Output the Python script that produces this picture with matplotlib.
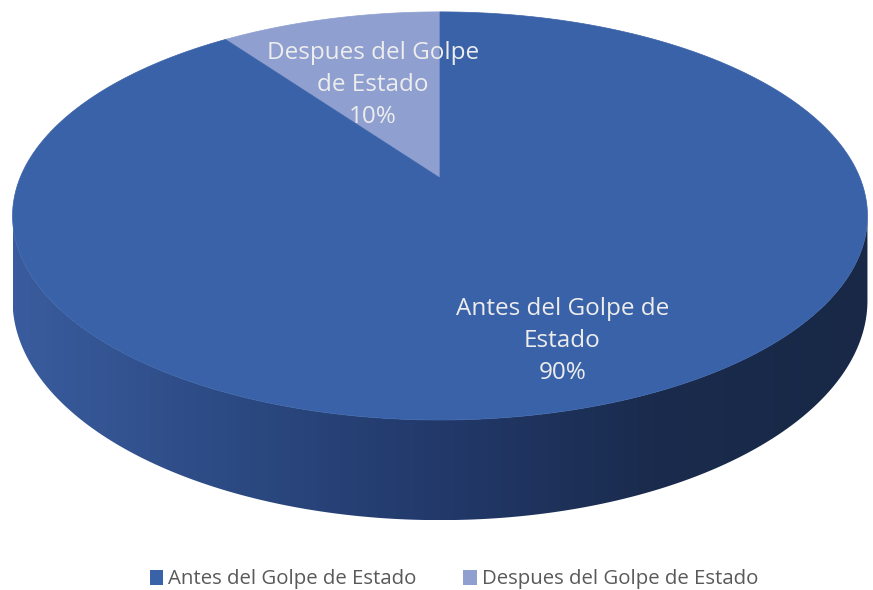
import numpy as np
import matplotlib
matplotlib.use("Agg")
import matplotlib.pyplot as plt
from matplotlib.patches import Polygon, Patch
from matplotlib.colors import LinearSegmentedColormap

categories = ["Antes del Golpe de Estado", "Despues del Golpe de Estado"]
values = [90, 10]
pct_labels = ["90%", "10%"]
colors = ["#3A62A8", "#8E9FD0"]

W, H = 873, 590
fig = plt.figure(figsize=(W / 100, H / 100), dpi=100)
ax = fig.add_axes([0, 0, 1, 1])
ax.set_xlim(0, W)
ax.set_ylim(H, 0)
ax.axis("off")

# perspective pie geometry
x0, y0 = 440.0, 178.0
A, B, k = 197.0, 420.0, 0.186
D = 81.5


def proj(t, r=1.0):
    # t: angle measured from top, counterclockwise (degrees)
    tr = np.radians(t)
    u = -np.sin(tr) * r
    v = np.cos(tr) * r
    s = 1 + k * v
    return x0 + B * u / s, y0 - A * v / s


def depth(t):
    v = np.cos(np.radians(t))
    return D / (1 + k * v)


# side (front visible part of the cylinder)
t_left = 90 + np.degrees(np.arcsin(k))
t_right = 270 - np.degrees(np.arcsin(k))
ts = np.linspace(t_left, t_right, 300)
top_x, top_y = proj(ts)
bot_y = top_y + depth(ts)
side_pts = np.concatenate([np.column_stack([top_x, top_y]),
                           np.column_stack([top_x[::-1], bot_y[::-1]])])
side_poly = Polygon(side_pts, closed=True, facecolor="none", edgecolor="none")
ax.add_patch(side_poly)
grad = np.linspace(0, 1, 256)[None, :]
cmap = LinearSegmentedColormap.from_list("side", ["#3A5C9E", "#2C4A83", "#22396A", "#1A2B4D", "#182846"])
im = ax.imshow(grad, cmap=cmap, extent=[top_x.min(), top_x.max(), bot_y.max(), top_y.min()],
               aspect="auto", zorder=1)
im.set_clip_path(side_poly)

# top face slices (start at 12 o'clock, second series counterclockwise)
start = 0.0
total = sum(values)
spans = []
order = [1, 0]
for idx in order:
    span = values[idx] / total * 360
    tt = np.linspace(start, start + span, 400)
    px, py = proj(tt)
    pts = np.vstack([[x0, y0], np.column_stack([px, py])])
    ax.add_patch(Polygon(pts, closed=True, facecolor=colors[idx], edgecolor=colors[idx],
                         linewidth=0.5, zorder=2))
    spans.append((idx, start, span))
    start += span

label_r = {1: 0.55, 0: 0.75}
label_text = {0: "Antes del Golpe de\nEstado\n" + pct_labels[0],
              1: "Despues del Golpe\nde Estado\n" + pct_labels[1]}
for idx, st, sp in spans:
    lx, ly = proj(st + sp / 2, label_r[idx])
    ax.text(lx + (10 if idx == 0 else -2), ly + 1, label_text[idx], ha="center", va="center",
            color="#EDEDED", fontsize=17.5, family="Open Sans", linespacing=1.45, zorder=3)

handles = [Patch(facecolor=colors[i], edgecolor="none", label=categories[i]) for i in range(2)]
fig.legend(handles=handles, loc="lower center", bbox_to_anchor=(0.52, -0.03), ncol=2,
           frameon=False, handlelength=0.65, handleheight=0.75,
           handletextpad=0.25, columnspacing=2.3,
           prop={"family": "Open Sans", "size": 14.7}, labelcolor="#595959")

fig.savefig("out.png", dpi=100)
